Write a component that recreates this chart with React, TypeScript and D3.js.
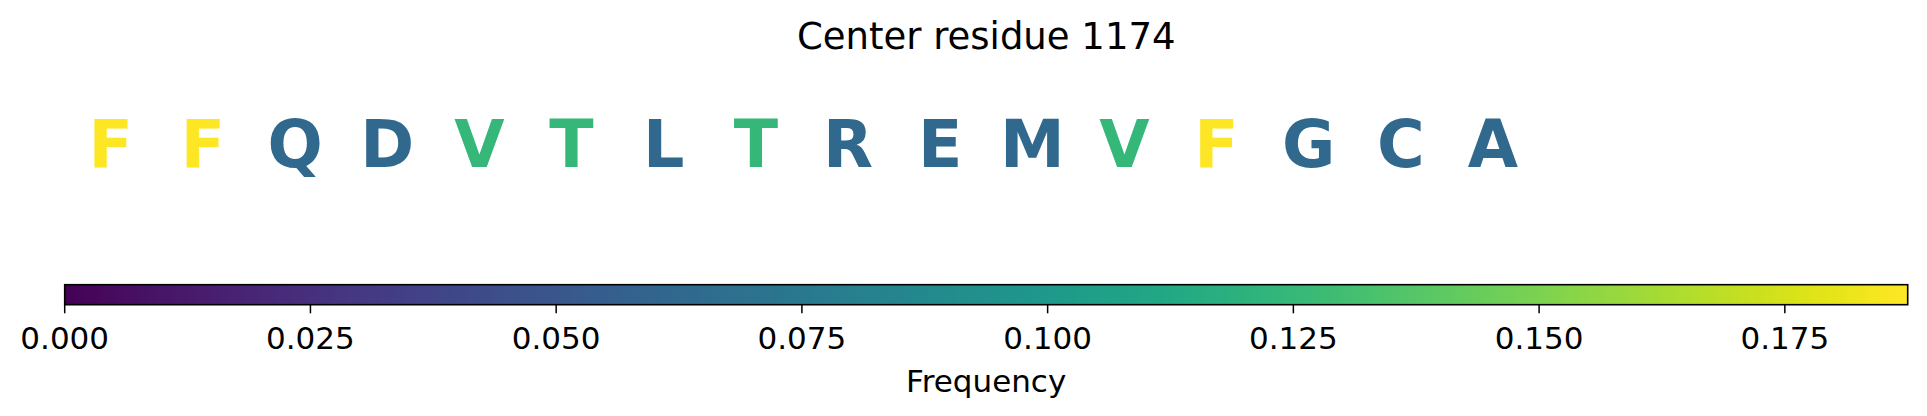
import React from "react";
import * as d3 from "d3";

const title = "Center residue 1174";
const residues = ["F", "F", "Q", "D", "V", "T", "L", "T", "R", "E", "M", "V", "F", "G", "C", "A"];
const positions = [0, 1, 2, 3, 4, 5, 6, 7, 8, 9, 10, 11, 12, 13, 14, 15];
const frequencies = [
  0.1875, 0.1875, 0.0625, 0.0625, 0.125, 0.125, 0.0625, 0.125,
  0.0625, 0.0625, 0.0625, 0.125, 0.1875, 0.0625, 0.0625, 0.0625,
];
const colorDomain = [0, 0.1875];
const cbTicks = [0, 0.025, 0.05, 0.075, 0.1, 0.125, 0.15, 0.175];
const cbLabel = "Frequency";

const W = 1927;
const H = 416;
const FONT = "'DejaVu Sans', 'Liberation Sans', sans-serif";

export default function App() {
  const left = 64.7;
  const right = 1907.7;
  const x = d3.scaleLinear().domain([-0.5, 19.5]).range([left, right]);
  const color = d3.scaleSequential(d3.interpolateViridis).domain(colorDomain as [number, number]);
  const cbX = d3.scaleLinear().domain(colorDomain).range([left, right]);
  const cbTop = 284.7;
  const cbBottom = 304.7;
  const stops = d3.range(0, 1.0001, 1 / 64);

  return (
    <svg
      width={W}
      height={H}
      style={{ position: "absolute", left: 0, top: 0, background: "#fff" }}
      fontFamily={FONT}
    >
      <defs>
        <linearGradient id="viridis" x1="0" x2="1" y1="0" y2="0">
          {stops.map((t, i) => (
            <stop key={i} offset={`${t * 100}%`} stopColor={d3.interpolateViridis(t)} />
          ))}
        </linearGradient>
      </defs>
      <text x={(left + right) / 2} y={49.3} textAnchor="middle" fontSize={37} fill="#000">
        {title}
      </text>
      {residues.map((r, i) => (
        <text
          key={i}
          x={x(positions[i])}
          y={166.5}
          textAnchor="middle"
          fontSize={65}
          fontWeight="bold"
          fill={color(frequencies[i])}
        >
          {r}
        </text>
      ))}
      <rect
        x={left}
        y={cbTop}
        width={right - left}
        height={cbBottom - cbTop}
        fill="url(#viridis)"
        stroke="#000"
        strokeWidth={1.6}
      />
      {cbTicks.map((t, i) => (
        <g key={i}>
          <line x1={cbX(t)} x2={cbX(t)} y1={cbBottom} y2={313.3} stroke="#000" strokeWidth={1.5} />
          <text x={cbX(t)} y={348.7} textAnchor="middle" fontSize={31} fill="#000">
            {t.toFixed(3)}
          </text>
        </g>
      ))}
      <text x={(left + right) / 2} y={391.7} textAnchor="middle" fontSize={31} fill="#000">
        {cbLabel}
      </text>
    </svg>
  );
}
